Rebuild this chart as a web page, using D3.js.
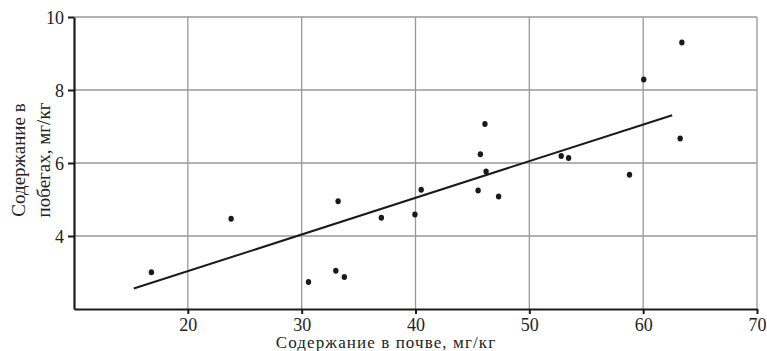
<!DOCTYPE html>
<html>
<head>
<meta charset="utf-8">
<script src="https://cdn.jsdelivr.net/npm/d3@7"></script>
<style>
  body { margin: 0; background: #fff; }
  svg { display: block; }
  svg text { font-family: "Liberation Serif", "DejaVu Serif", serif; }
</style>
</head>
<body>
<div id="chart"></div>
<script>
// soil content (x) vs shoot content (y), mg/kg
const soil = [16.8, 23.8, 30.6, 33.0, 33.75, 33.2, 37.0, 39.95, 40.5, 45.5,
              45.7, 46.1, 46.2, 47.3, 52.8, 53.45, 58.8, 60.05, 63.25, 63.4];
const shoots = [3.01, 4.47, 2.74, 3.05, 2.88, 4.95, 4.50, 4.59, 5.27, 5.25,
                6.24, 7.07, 5.77, 5.08, 6.19, 6.14, 5.68, 8.29, 6.67, 9.30];
// regression line end points
const fitX = [15.25, 62.55];
const fitY = [2.56, 7.31];

const xTicks = [20, 30, 40, 50, 60, 70];
const yTicks = [4, 6, 8, 10];

const width = 767, height = 351;
const margin = { top: 17, right: 10, bottom: 42, left: 74 };

const svg = d3.select("#chart")
    .append("svg")
    .attr("width", width)
    .attr("height", height);

const x = d3.scaleLinear().domain([10, 70]).range([margin.left, 757]);
const y = d3.scaleLinear().domain([2, 10]).range([309, margin.top]);

// grid
svg.append("g")
    .selectAll("line")
    .data(xTicks)
    .join("line")
    .attr("x1", d => x(d)).attr("x2", d => x(d))
    .attr("y1", y(10)).attr("y2", y(2))
    .attr("stroke", "#999").attr("stroke-width", 1.3);
svg.append("g")
    .selectAll("line")
    .data(yTicks)
    .join("line")
    .attr("x1", x(10)).attr("x2", x(70))
    .attr("y1", d => y(d)).attr("y2", d => y(d))
    .attr("stroke", "#999").attr("stroke-width", 1.3);

// axes
const xAxis = svg.append("g")
    .attr("transform", `translate(0,${y(2)})`)
    .call(d3.axisBottom(x).tickValues(xTicks).tickSize(5).tickSizeOuter(0).tickPadding(4.5));
const yAxis = svg.append("g")
    .attr("transform", `translate(${x(10)},0)`)
    .call(d3.axisLeft(y).tickValues(yTicks).tickSize(6).tickSizeOuter(0).tickPadding(4));

[xAxis, yAxis].forEach(g => {
    g.attr("font-family", null).attr("font-size", null);
    g.select(".domain").attr("stroke", "#1a1a1a").attr("stroke-width", 2.2);
    g.selectAll(".tick line").attr("stroke", "#1a1a1a").attr("stroke-width", 2);
    g.selectAll(".tick text")
        .attr("fill", "#222")
        .attr("font-size", 18)
        .style("font-family", "Liberation Serif");
});
yAxis.selectAll(".tick text").attr("dy", "0.36em");

// regression line
svg.append("line")
    .attr("x1", x(fitX[0])).attr("y1", y(fitY[0]))
    .attr("x2", x(fitX[1])).attr("y2", y(fitY[1]))
    .attr("stroke", "#1a1a1a").attr("stroke-width", 2);

// points
svg.append("g")
    .selectAll("ellipse")
    .data(soil)
    .join("ellipse")
    .attr("cx", d => x(d))
    .attr("cy", (d, i) => y(shoots[i]))
    .attr("rx", 2.7).attr("ry", 3)
    .attr("fill", "#1a1a1a");

// axis titles
svg.append("text")
    .attr("x", 386).attr("y", 348)
    .attr("text-anchor", "middle")
    .attr("fill", "#222")
    .attr("font-size", 17)
    .attr("letter-spacing", 1.1)
    .text("Содержание в почве, мг/кг");

const yTitle = svg.append("text")
    .attr("transform", "translate(25,160) rotate(-90)")
    .attr("text-anchor", "middle")
    .attr("fill", "#222")
    .attr("font-size", 19);
yTitle.append("tspan").attr("x", 0).attr("dy", 0).text("Содержание в");
yTitle.append("tspan").attr("x", 0).attr("dy", "1.3em").text("побегах,  мг/кг");
</script>
</body>
</html>
